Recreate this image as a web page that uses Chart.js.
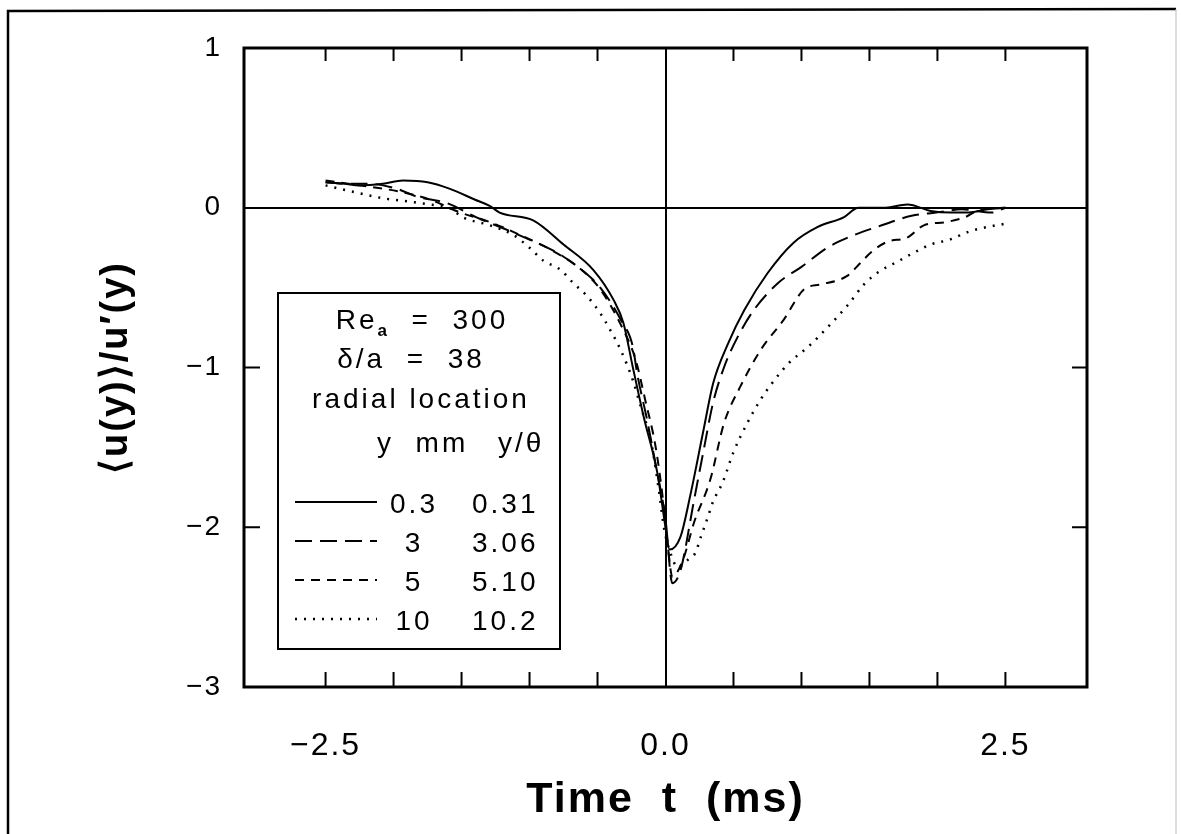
<!DOCTYPE html>
<html>
<head>
<meta charset="utf-8">
<script src="https://cdn.jsdelivr.net/npm/chart.js@4.4.0/dist/chart.umd.min.js"></script>
<style>
  html, body { margin: 0; padding: 0; background: #fff; }
  #wrap { width: 1181px; height: 834px; }
</style>
</head>
<body>
<div id="wrap"><canvas id="chart" width="1181" height="834"></canvas></div>
<script>
// time in ms, values are <u(y)>/u'(y)
const t03 = [-2.5, -2.36, -2.25, -2.08, -1.93, -1.75, -1.59, -1.4, -1.29, -1.22, -0.97, -0.75, -0.53, -0.38, -0.31, -0.24, -0.16, -0.06, 0.0, 0.03, 0.11, 0.18, 0.28, 0.35, 0.46, 0.58, 0.75, 0.94, 1.12, 1.31, 1.42, 1.6, 1.78, 1.95, 2.1, 2.23, 2.37, 2.5];
const u03 = [0.16, 0.15, 0.14, 0.15, 0.17, 0.16, 0.12, 0.05, 0.01, -0.03, -0.08, -0.23, -0.39, -0.58, -0.72, -1.0, -1.31, -1.66, -2.0, -2.14, -2.06, -1.81, -1.39, -1.10, -0.85, -0.64, -0.41, -0.22, -0.12, -0.06, 0.0, 0.0, 0.02, -0.02, -0.03, -0.03, -0.01, 0.0];

const t3 = [-2.5, -2.36, -2.18, -1.98, -1.83, -1.61, -1.39, -1.19, -1.0, -0.8, -0.63, -0.48, -0.33, -0.24, -0.21, -0.13, -0.07, 0.0, 0.05, 0.11, 0.21, 0.28, 0.35, 0.43, 0.53, 0.65, 0.83, 1.0, 1.19, 1.36, 1.59, 1.81, 1.99, 2.18, 2.4, 2.5];
const u3 = [0.16, 0.15, 0.15, 0.12, 0.07, 0.03, -0.06, -0.13, -0.2, -0.28, -0.38, -0.5, -0.7, -0.87, -1.03, -1.35, -1.62, -1.95, -2.35, -2.27, -1.83, -1.52, -1.22, -1.0, -0.81, -0.64, -0.47, -0.37, -0.25, -0.18, -0.11, -0.05, -0.03, -0.01, -0.03, 0.0];

const t5 = [-2.5, -2.25, -1.95, -1.73, -1.51, -1.29, -1.07, -0.85, -0.63, -0.48, -0.33, -0.22, -0.15, -0.07, -0.01, 0.02, 0.05, 0.13, 0.21, 0.33, 0.43, 0.55, 0.7, 0.87, 1.02, 1.14, 1.33, 1.44, 1.51, 1.64, 1.77, 1.9, 2.06, 2.2, 2.32, 2.5];
const u5 = [0.17, 0.14, 0.1, 0.05, -0.03, -0.09, -0.17, -0.26, -0.38, -0.51, -0.73, -0.95, -1.2, -1.51, -1.89, -2.14, -2.31, -2.2, -1.97, -1.7, -1.35, -1.12, -0.89, -0.7, -0.51, -0.48, -0.43, -0.34, -0.28, -0.21, -0.19, -0.11, -0.09, -0.06, -0.01, 0.0];

const t10 = [-2.5, -2.3, -2.08, -1.9, -1.73, -1.59, -1.49, -1.29, -1.12, -1.0, -0.9, -0.77, -0.68, -0.58, -0.48, -0.41, -0.33, -0.24, -0.18, -0.11, -0.05, -0.01, 0.04, 0.09, 0.17, 0.22, 0.26, 0.31, 0.35, 0.42, 0.5, 0.6, 0.7, 0.8, 0.91, 1.05, 1.19, 1.34, 1.46, 1.57, 1.7, 1.83, 1.95, 2.09, 2.23, 2.37, 2.5];
const u10 = [0.14, 0.1, 0.06, 0.04, 0.02, 0.0, -0.06, -0.11, -0.17, -0.25, -0.33, -0.39, -0.47, -0.55, -0.66, -0.76, -0.89, -1.08, -1.25, -1.45, -1.76, -2.01, -2.17, -2.25, -2.2, -2.16, -2.06, -1.94, -1.84, -1.72, -1.53, -1.35, -1.2, -1.08, -0.97, -0.87, -0.75, -0.61, -0.48, -0.4, -0.34, -0.28, -0.23, -0.2, -0.15, -0.12, -0.1];

const yMm = ['0.3', '3', '5', '10'];
const yTheta = ['0.31', '3.06', '5.10', '10.2'];
const xTickLabels = [-2.5, 0, 2.5];
const xTickMarks = [-2.5, -2, -1.5, -1, -0.5, 0.5, 1, 1.5, 2, 2.5];
const yTickMarks = [-1, -2];

const dashes = [[], [17, 8], [9, 7], [2, 7]];
const FONT = 'Liberation Sans';

function pts(ts, us) {
  return ts.map((t, i) => ({ x: t, y: us[i] }));
}

function minus(s) {
  return String(s).replace('-', '\u2212');
}

const series = [pts(t03, u03), pts(t3, u3), pts(t5, u5), pts(t10, u10)];

// the scanned figure has wide, loosely tracked lettering
const spacing = {
  id: 'spacing',
  beforeDraw(chart) {
    chart.ctx.letterSpacing = '2px';
  }
};

const frame = {
  id: 'frame',
  afterDraw(chart) {
    const ctx = chart.ctx;
    const a = chart.chartArea;
    const xs = chart.scales.x, ys = chart.scales.y;
    ctx.save();
    ctx.strokeStyle = '#000';

    // plot box
    ctx.lineWidth = 3;
    ctx.strokeRect(a.left, a.top, a.right - a.left, a.bottom - a.top);

    // inward ticks
    ctx.lineWidth = 2;
    ctx.beginPath();
    xTickMarks.forEach(v => {
      const x = xs.getPixelForValue(v);
      ctx.moveTo(x, a.bottom); ctx.lineTo(x, a.bottom - 15);
      ctx.moveTo(x, a.top); ctx.lineTo(x, a.top + 13);
    });
    yTickMarks.forEach(v => {
      const y = ys.getPixelForValue(v);
      ctx.moveTo(a.left, y); ctx.lineTo(a.left + 16, y);
      ctx.moveTo(a.right, y); ctx.lineTo(a.right - 15, y);
    });
    ctx.stroke();

    // outer figure frame
    ctx.lineWidth = 2.5;
    ctx.beginPath();
    ctx.moveTo(8, 834); ctx.lineTo(8, 11); ctx.lineTo(1176, 9);
    ctx.stroke();
    ctx.strokeStyle = '#bbb';
    ctx.lineWidth = 1;
    ctx.beginPath();
    ctx.moveTo(1176, 9); ctx.lineTo(1176, 834);
    ctx.stroke();

    // legend box
    ctx.strokeStyle = '#000';
    ctx.lineWidth = 2;
    ctx.fillStyle = '#fff';
    ctx.fillRect(278, 293, 282, 356);
    ctx.strokeRect(278, 293, 282, 356);

    ctx.fillStyle = '#000';
    ctx.textBaseline = 'alphabetic';
    ctx.letterSpacing = '3px';

    // Re_a = 300
    const big = '28px ' + FONT, small = 'bold 17px ' + FONT;
    ctx.font = big; const wRe = ctx.measureText('Re').width;
    ctx.font = small; const wA = ctx.measureText('a').width;
    ctx.font = big; const wRest = ctx.measureText('  =  300').width;
    const x0 = 422 - (wRe + wA + wRest) / 2;
    ctx.textAlign = 'left';
    ctx.fillText('Re', x0, 329);
    ctx.font = small; ctx.fillText('a', x0 + wRe, 336);
    ctx.font = big; ctx.fillText('  =  300', x0 + wRe + wA, 329);

    ctx.textAlign = 'center';
    ctx.fillText('\u03b4/a  =  38', 411, 368);
    ctx.fillText('radial location', 421, 408);
    ctx.textAlign = 'left';
    ctx.fillText('y  mm', 377, 452);
    ctx.fillText('y/\u03b8', 498, 452);

    const rows = [513, 552, 591, 630];
    rows.forEach((yb, i) => {
      const ly = yb - 11;
      ctx.save();
      ctx.setLineDash(dashes[i]);
      ctx.lineWidth = i === 3 ? 2.5 : 2;
      ctx.beginPath();
      ctx.moveTo(295, ly); ctx.lineTo(377, ly);
      ctx.stroke();
      ctx.restore();
      ctx.textAlign = 'center';
      ctx.fillText(yMm[i], 414, yb);
      ctx.textAlign = 'left';
      ctx.fillText(yTheta[i], 472, yb);
    });
    ctx.restore();
  }
};

new Chart(document.getElementById('chart'), {
  type: 'scatter',
  data: {
    datasets: series.map((d, i) => ({
      label: yMm[i] + ' mm',
      data: d,
      showLine: true,
      pointRadius: 0,
      borderColor: '#000',
      borderWidth: i === 3 ? 2.5 : 2,
      borderDash: dashes[i],
      cubicInterpolationMode: 'monotone'
    }))
  },
  options: {
    responsive: false,
    devicePixelRatio: 1,
    animation: false,
    layout: { padding: { top: 48, right: 94, left: 0, bottom: 0 } },
    plugins: { legend: { display: false }, tooltip: { enabled: false } },
    scales: {
      x: {
        type: 'linear',
        min: -3.1,
        max: 3.1,
        afterFit: s => { s.height = 147; },
        border: { display: false },
        grid: {
          drawTicks: false,
          lineWidth: 2,
          color: c => (c.tick && c.tick.value === 0 ? '#000' : 'rgba(0,0,0,0)')
        },
        ticks: {
          stepSize: 0.5,
          autoSkip: false,
          maxRotation: 0,
          padding: 40,
          color: '#000',
          font: { family: FONT, size: 32 },
          callback: v => (xTickLabels.some(l => Math.abs(l - v) < 1e-6) ? minus(v.toFixed(1)) : '')
        },
        title: {
          display: true,
          text: 'Time  t  (ms)',
          color: '#000',
          font: { family: FONT, size: 43, weight: 'bold' },
          padding: { top: 0, bottom: 8 }
        }
      },
      y: {
        min: -3,
        max: 1,
        afterFit: s => { s.width = 244; },
        border: { display: false },
        grid: {
          drawTicks: false,
          lineWidth: 2,
          color: c => (c.tick && c.tick.value === 0 ? '#000' : 'rgba(0,0,0,0)')
        },
        ticks: {
          stepSize: 1,
          padding: 22,
          color: '#000',
          font: { family: FONT, size: 28 },
          callback: v => minus(v)
        },
        title: {
          display: true,
          text: '\u27e8u(y)\u27e9/u\u2032(y)',
          color: '#000',
          font: { family: FONT, size: 38, weight: 'bold' },
          padding: { top: 94, bottom: 0 }
        }
      }
    }
  },
  plugins: [spacing, frame]
});
</script>
</body>
</html>
